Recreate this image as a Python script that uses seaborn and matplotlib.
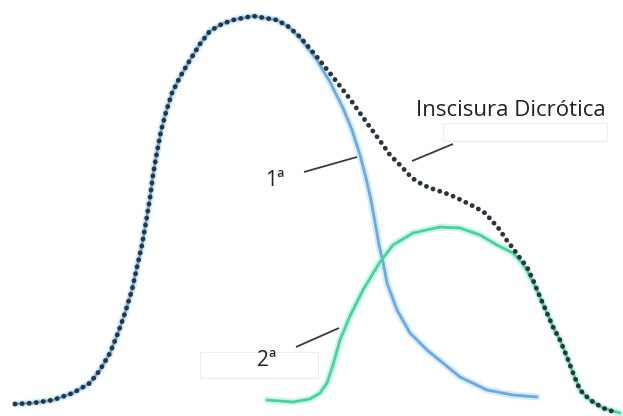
import matplotlib
matplotlib.use("Agg")
import matplotlib.pyplot as plt
from matplotlib.patches import Rectangle
import seaborn as sns
import pandas as pd

# Total pulse wave (dotted), image-pixel coordinates (y downward)
total_x = [15, 33, 53, 73, 90, 100, 110, 118, 125, 132, 137, 142, 146, 150, 153, 157, 161, 166, 172, 180,
           190, 200, 210, 222, 233, 253, 277, 289, 300, 317, 333, 350, 367, 383, 390, 400, 412, 423, 433,
           445, 455, 465, 475, 485, 493, 500, 505, 512, 520, 527, 533, 540, 547, 553, 560, 567, 573, 580,
           590, 603, 617]
total_y = [404, 403, 400, 393, 383, 370, 353, 333, 313, 290, 267, 245, 222, 198, 175, 152, 131, 112, 93, 77,
           60, 44, 31, 24, 20, 16, 20, 27, 37, 57, 77, 99, 123, 145, 155, 165, 178, 185, 189,
           193, 197, 202, 207, 213, 222, 230, 238, 247, 258, 267, 280, 297, 313, 327, 340, 357, 373, 390,
           400, 408, 413]

# First (percussion) wave
first_x = [15, 33, 53, 73, 90, 100, 110, 118, 125, 132, 137, 142, 146, 150, 153, 157, 161, 166, 172, 180,
           190, 200, 210, 222, 233, 253, 277, 289, 300, 317, 330, 343, 352, 360, 366, 371, 375, 379, 383,
           387, 397, 410, 427, 443, 460, 487, 513, 537]
first_y = [404, 403, 400, 393, 383, 370, 353, 333, 313, 290, 267, 245, 222, 198, 175, 152, 131, 112, 93, 77,
           60, 44, 31, 24, 20, 16, 20, 27, 38, 60, 82, 108, 130, 155, 178, 200, 222, 245, 262,
           283, 310, 333, 350, 363, 377, 390, 395, 397]

# Second (reflected) wave
second_x = [267, 293, 310, 320, 327, 333, 340, 350, 363, 380, 393, 413, 440, 460, 480, 497, 513, 522,
            528, 533, 540, 547, 553, 560, 567, 573, 580, 590, 603, 620]
second_y = [400, 402, 399, 393, 383, 365, 340, 316, 290, 262, 245, 233, 227, 228, 235, 245, 253, 263,
            272, 282, 297, 313, 327, 340, 357, 373, 390, 400, 408, 413]

labels = ["1ª", "2ª", "Inscisura Dicrótica"]
label_x = [275, 267, 511]
label_y = [181, 360, 110]

pointer_x = [[304, 357], [296, 339], [412, 453]]
pointer_y = [[172, 157], [347, 328], [161, 144]]

sns.set_style("white")
plt.rcParams['font.family'] = ['Open Sans', 'DejaVu Sans']

fig = plt.figure(figsize=(6.23, 4.16), dpi=100)
ax = fig.add_axes([0, 0, 1, 1])

# faint label boxes
ax.add_patch(Rectangle((443, 123), 164, 18, fill=False, ec="#ededed", lw=0.8))
ax.add_patch(Rectangle((200, 352), 118, 26, fill=False, ec="#ededed", lw=0.8))

df1 = pd.DataFrame({"x": first_x, "y": first_y})
df2 = pd.DataFrame({"x": second_x, "y": second_y})
dft = pd.DataFrame({"x": total_x, "y": total_y})

common = dict(sort=False, estimator=None, ax=ax, solid_capstyle="round", solid_joinstyle="round")
# halos
sns.lineplot(data=df1, x="x", y="y", color="#d3ebfa", lw=5.0, **common)
sns.lineplot(data=df2, x="x", y="y", color="#cdf5e7", lw=5.0, **common)
# waves
sns.lineplot(data=df1, x="x", y="y", color="#6ea9dd", lw=2.0, **common)
sns.lineplot(data=df2, x="x", y="y", color="#45d2a4", lw=2.0, **common)
# dotted total
sns.lineplot(data=dft, x="x", y="y", sort=False, estimator=None, ax=ax,
             color="#2a3540", lw=3.5, linestyle=(0, (0.01, 1.45)), dash_capstyle="round")

for px, py in zip(pointer_x, pointer_y):
    ax.plot(px, py, color="#3a3a3a", lw=1.3, solid_capstyle="butt")

sizes = [15, 15, 16]
for t, x, y, s in zip(labels, label_x, label_y, sizes):
    ax.text(x, y, t, ha="center", va="center", fontsize=s, color="#222222")

ax.set_xlim(0, 623)
ax.set_ylim(416, 0)
ax.axis("off")

fig.savefig("out.png", dpi=100, facecolor="white")
